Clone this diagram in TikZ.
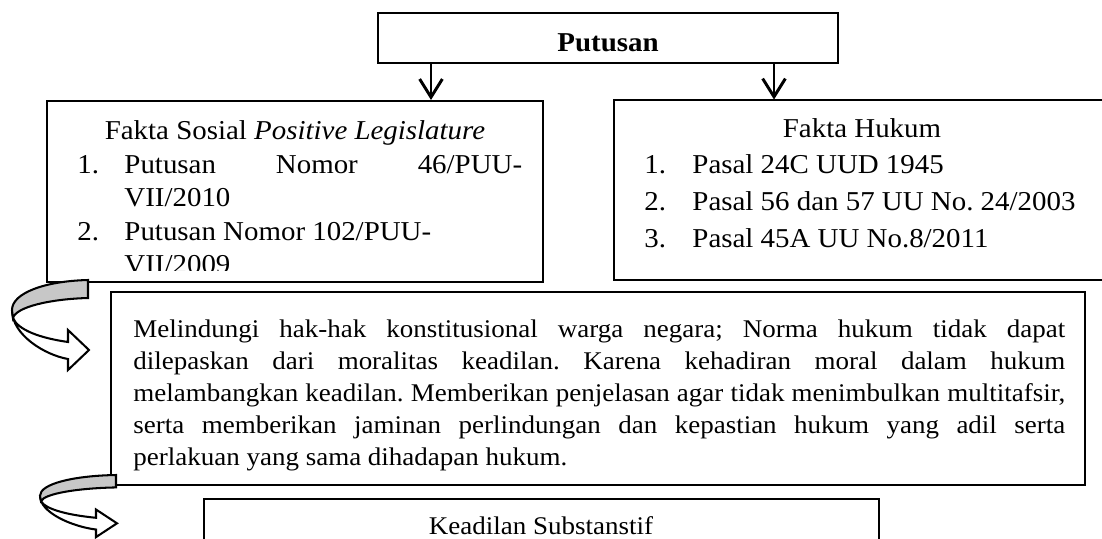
\documentclass[tikz,border=0pt]{standalone}
\usepackage{fontspec}
\setmainfont{Liberation Serif}[FakeStretch=1.06]
\usetikzlibrary{arrows.meta,fit}
\frenchspacing

\tikzset{
  kotak/.style={draw, line width=0.9pt, inner sep=0pt},
  teks/.style={anchor=base west, inner sep=0pt, font=\fontsize{12}{14}\selectfont},
  tekskecil/.style={anchor=base west, inner sep=0pt, font=\fontsize{11.2}{13}\selectfont},
  panah/.style={-{Straight Barb[length=8pt,width=10pt]}, line width=1.3pt},
  lengkung/.pic={
    \filldraw[fill=white, line width=0.9pt] (-76,30) .. controls (-76,55) and (-43,75) .. (-20,79)
      -- (-20,90) -- (1,70) -- (-20,50) -- (-20,62) .. controls (-48,58) and (-70,50) .. (-75,38) -- cycle;
    \filldraw[fill=black!22, line width=0.9pt] (0,0) -- (0,18) .. controls (-38,19) and (-72,27) .. (-75,38)
      -- (-76,30) .. controls (-76,13) and (-43,1) .. (0,0) -- cycle;
  }
}
\newcommand{\baris}[2]{\makebox[#1][s]{#2}}

\begin{document}
\begin{tikzpicture}[x=0.44pt, y={(0pt,-0.44pt)}]
    \useasboundingbox (0,0) rectangle (1102,538);
    \clip (0,0) rectangle (1102,538);

    % kotak atas
    \node[kotak, fit={(378,13) (838,63)}] (putusan) {};
    \node[teks, anchor=base] (judul) at (608,51) {\textbf{Putusan}};

    % fakta sosial
    \node[kotak, fit={(47,101) (543,282)}] (sosial) {};
    \begin{scope}
        \clip (47,101) rectangle (543,270);
        \node[teks, anchor=base] (sosialjudul) at (295,139) {Fakta Sosial \textit{Positive Legislature}};
        \node[teks] (s1) at (77,173) {1.};
        \node[teks] (s1a) at (124,173) {\baris{175pt}{Putusan Nomor 46/PUU-}};
        \node[teks] (s1b) at (124,206) {VII/2010};
        \node[teks] (s2) at (77,240) {2.};
        \node[teks] (s2a) at (124,240) {Putusan Nomor 102/PUU-};
        \node[teks] (s2b) at (124,273) {VII/2009};
    \end{scope}

    % fakta hukum (sisi kanan terpotong)
    \node[inner sep=0pt, fit={(614,100) (1140,280)}] (hukum) {};
    \draw[line width=0.9pt] (hukum.north east) -- (hukum.north west) -- (hukum.south west) -- (hukum.south east);
    \node[teks, anchor=base] (hukumjudul) at (862,137) {Fakta Hukum};
    \node[teks] (h1) at (644,173) {1.};
    \node[teks] (h1a) at (692,173) {Pasal 24C UUD 1945};
    \node[teks] (h2) at (644,210) {2.};
    \node[teks] (h2a) at (692,210) {Pasal 56 dan 57 UU No. 24/2003};
    \node[teks] (h3) at (644,247) {3.};
    \node[teks] (h3a) at (692,247) {Pasal 45A UU No.8/2011};

    \coordinate (ka) at (431,0);
    \coordinate (kb) at (774,0);
    \draw[panah] (putusan.south -| ka) -- (sosial.north -| ka);
    \draw[panah] (putusan.south -| kb) -- (hukum.north -| kb);

    % kotak tengah
    \node[kotak, line width=1.3pt, fit={(111,292) (1085,485)}] (tengah) {};
    \node[tekskecil] (t1) at (133,337) {\baris{410pt}{Melindungi hak-hak konstitusional warga negara; Norma hukum tidak dapat}};
    \node[tekskecil] (t2) at (133,369) {\baris{410pt}{dilepaskan dari moralitas keadilan. Karena kehadiran moral dalam hukum}};
    \node[tekskecil] (t3) at (133,401) {\baris{410pt}{melambangkan keadilan. Memberikan penjelasan agar tidak menimbulkan multitafsir,}};
    \node[tekskecil] (t4) at (133,433) {\baris{410pt}{serta memberikan jaminan perlindungan dan kepastian hukum yang adil serta}};
    \node[tekskecil] (t5) at (133,465) {perlakuan yang sama dihadapan hukum.};

    % kotak bawah
    \node[kotak, fit={(204,499) (879,560)}] (keadilan) {};
    \node[tekskecil, anchor=base] (keadilanjudul) at (541,534) {Keadilan Substanstif};

    % panah lengkung
    \pic at (88,280) {lengkung};
    \pic[yscale=0.69] at (116,475) {lengkung};

\end{tikzpicture}
\end{document}
